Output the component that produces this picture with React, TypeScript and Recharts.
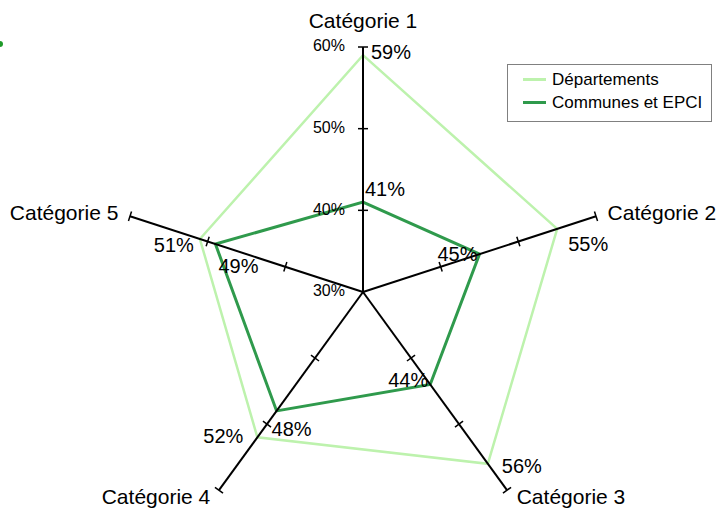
import { RadarChart, Radar, PolarAngleAxis, PolarRadiusAxis, Legend } from "recharts";

const categories = ["Catégorie 1", "Catégorie 2", "Catégorie 3", "Catégorie 4", "Catégorie 5"];
const departements = [59, 55, 56, 52, 51];
const communes = [41, 45, 44, 48, 49];
const radiusTicks = [30, 40, 50, 60];
const seriesNames = ["Départements", "Communes et EPCI"];

const data = categories.map((name, i) => ({
  name,
  dep: departements[i],
  com: communes[i],
}));

const FONT = "'Liberation Sans', Arial, sans-serif";
const LIGHT = "#bdf2ad";
const DARK = "#2f9a4c";

// spokes go clockwise from the top
const spokeAngles = categories.map((_, i) => 90 - 72 * i);

// [dx, dy, anchor] for value labels, per category
const depLabelPos: [number, number, string][] = [
  [8, -1, "start"],
  [11, 17, "start"],
  [14, 4, "start"],
  [-14, 0, "end"],
  [-6, 8, "end"],
];
const comLabelPos: [number, number, string][] = [
  [2, -11, "start"],
  [-2, 2, "end"],
  [-2, -3, "end"],
  [-5, 20, "start"],
  [3, 24, "start"],
];
const catLabelPos: [number, number][] = [
  [0, -17],
  [4, 1],
  [5, 2],
  [-4, 2],
  [-4, 1],
];

function valueLabel(pos: [number, number, string][]) {
  return (p: any) => {
    const [dx, dy, anchor] = pos[p.index] ?? [0, 0, "start"];
    const v = p.payload?.value ?? p.value;
    return (
      <text
        key={`l-${p.index}`}
        x={p.cx + dx}
        y={p.cy + dy}
        textAnchor={anchor as any}
        dominantBaseline="middle"
        fontFamily={FONT}
        fontSize={20}
        fill="#000"
      >
        {`${v}%`}
      </text>
    );
  };
}

function CategoryTick(p: any) {
  const [dx, dy] = catLabelPos[p.index] ?? [0, 0];
  return (
    <text
      x={p.x + dx}
      y={p.y + dy}
      textAnchor={p.textAnchor}
      dominantBaseline="middle"
      fontFamily={FONT}
      fontSize={21}
      fill="#000"
    >
      {p.payload.value}
    </text>
  );
}

function spokeTick(angle: number, withLabel: boolean) {
  const rad = (angle * Math.PI) / 180;
  const px = Math.sin(rad) * 5;
  const py = Math.cos(rad) * 5;
  return (p: any) => {
    const v = p.payload.value;
    return (
      <g>
        {v > radiusTicks[0] && (
          <line x1={p.x - px} y1={p.y - py} x2={p.x + px} y2={p.y + py} stroke="#000" strokeWidth={1.5} />
        )}
        {withLabel && (
          <text
            x={p.x - 18}
            y={p.y}
            textAnchor="end"
            dominantBaseline="middle"
            fontFamily={FONT}
            fontSize={16}
            fill="#000"
          >
            {`${v}%`}
          </text>
        )}
      </g>
    );
  };
}

function LegendBox() {
  const colors = [LIGHT, DARK];
  return (
    <div
      style={{
        border: "1px solid #808080",
        background: "#fff",
        width: 203,
        height: 53,
        boxSizing: "content-box",
        fontFamily: FONT,
        fontSize: 17,
        paddingTop: 3,
      }}
    >
      {seriesNames.map((n, i) => (
        <div key={n} style={{ display: "flex", alignItems: "center", height: 23, paddingLeft: 15 }}>
          <span style={{ display: "inline-block", width: 23, height: 3, background: colors[i], marginRight: 6 }} />
          <span>{n}</span>
        </div>
      ))}
    </div>
  );
}

export default function App() {
  return (
    <div style={{ position: "absolute", left: 0, top: 0, width: 718, height: 509, background: "#fff" }}>
      <div
        style={{
          position: "absolute",
          left: -3,
          top: 41,
          width: 6,
          height: 6,
          borderRadius: 3,
          background: "#1f9a2a",
        }}
      />
      <RadarChart width={718} height={509} data={data} cx={363} cy={292} outerRadius={245}>
        <PolarAngleAxis dataKey="name" axisLine={false} tickLine={false} tickSize={8} tick={CategoryTick} />
        {spokeAngles.map((a, i) => (
          <PolarRadiusAxis
            key={a}
            radiusAxisId={i}
            angle={a}
            type="number"
            domain={[30, 60]}
            ticks={radiusTicks}
            allowDataOverflow
            axisLine={{ stroke: "#000", strokeWidth: 2 }}
            tick={spokeTick(a, i === 0)}
          />
        ))}
        <Radar
          name={seriesNames[0]}
          dataKey="dep"
          stroke={LIGHT}
          strokeWidth={2.5}
          fill="none"
          fillOpacity={0}
          dot={valueLabel(depLabelPos)}
          isAnimationActive={false}
        />
        <Radar
          name={seriesNames[1]}
          dataKey="com"
          stroke={DARK}
          strokeWidth={3}
          fill="none"
          fillOpacity={0}
          dot={valueLabel(comLabelPos)}
          isAnimationActive={false}
        />
        <Legend
          content={() => <LegendBox />}
          wrapperStyle={{ position: "absolute", left: 507, top: 64, width: 205 }}
        />
      </RadarChart>
    </div>
  );
}
